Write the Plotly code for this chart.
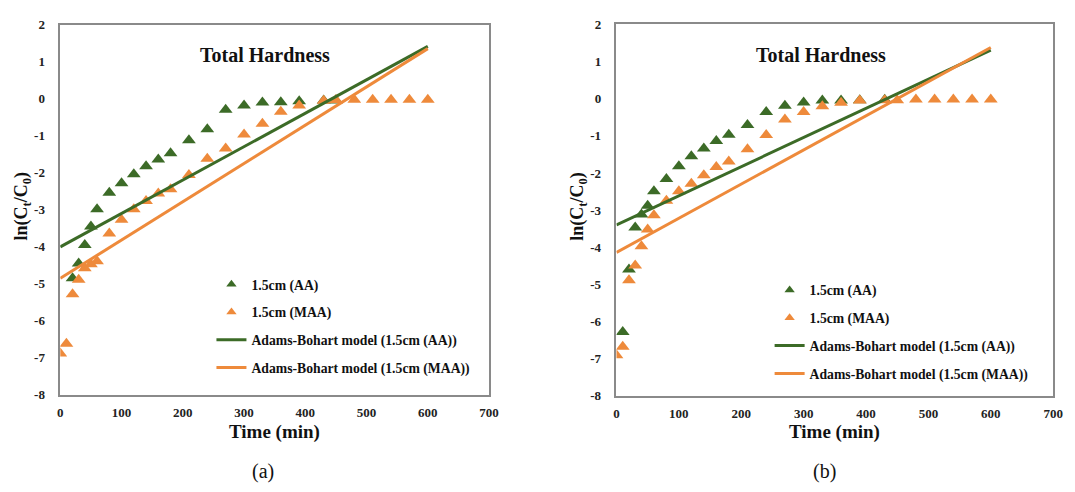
import plotly.graph_objects as go

# ---------------- data ----------------
# Panel (a)
time_aa_a = [20, 30, 40, 50, 60, 80, 100, 120, 140, 160, 180, 210, 240, 270, 300, 330, 360, 390, 430, 450]
ln_aa_a = [-4.85, -4.45, -3.95, -3.45, -2.98, -2.54, -2.28, -2.04, -1.82, -1.64, -1.47, -1.12, -0.82, -0.29, -0.18, -0.10, -0.09, -0.06, -0.04, -0.04]
time_maa_a = [0, 10, 20, 30, 40, 50, 60, 80, 100, 120, 140, 160, 180, 210, 240, 270, 300, 330, 360, 390, 430, 450, 480, 510, 540, 570, 600]
ln_maa_a = [-6.88, -6.62, -5.28, -4.89, -4.58, -4.47, -4.39, -3.64, -3.27, -2.98, -2.76, -2.56, -2.44, -2.06, -1.62, -1.34, -0.96, -0.67, -0.35, -0.18, -0.05, -0.03, -0.02, -0.02, -0.02, -0.02, -0.02]
model_t = [0, 600]
model_aa_a = [-4.0, 1.42]
model_maa_a = [-4.85, 1.36]

# Panel (b)
time_aa_b = [10, 20, 30, 40, 50, 60, 80, 100, 120, 140, 160, 180, 210, 240, 270, 300, 330, 360, 390, 430]
ln_aa_b = [-6.28, -4.60, -3.47, -3.12, -2.88, -2.49, -2.16, -1.82, -1.55, -1.34, -1.14, -0.97, -0.71, -0.36, -0.19, -0.10, -0.05, -0.05, -0.04, -0.03]
time_maa_b = [0, 10, 20, 30, 40, 50, 60, 80, 100, 120, 140, 160, 180, 210, 240, 270, 300, 330, 360, 390, 430, 450, 480, 510, 540, 570, 600]
ln_maa_b = [-6.91, -6.68, -4.89, -4.49, -3.97, -3.52, -3.14, -2.75, -2.49, -2.29, -2.06, -1.84, -1.69, -1.36, -0.98, -0.56, -0.36, -0.20, -0.11, -0.05, -0.04, -0.04, -0.02, -0.02, -0.02, -0.02, -0.02]
model_aa_b = [-3.40, 1.31]
model_maa_b = [-4.14, 1.38]

x_ticks = [0, 100, 200, 300, 400, 500, 600, 700]
y_ticks = [-8, -7, -6, -5, -4, -3, -2, -1, 0, 1, 2]
x_tick_text = ["0", "100", "200", "300", "400", "500", "600", "700"]
y_tick_text = ["-8", "-7", "-6", "-5", "-4", "-3", "-2", "-1", "0", "1", "2"]

names = ["1.5cm (AA)", "1.5cm (MAA)", "Adams-Bohart model (1.5cm (AA))", "Adams-Bohart model (1.5cm (MAA))"]

# ---------------- styles ----------------
GREEN = "#3C6B27"
ORANGE = "#EE8A3B"
SERIF = "Liberation Serif"
W, H = 1075, 492

fig = go.Figure()

panels = [
    dict(xa="x", ya="y", leg="legend", data=(time_aa_a, ln_aa_a, time_maa_a, ln_maa_a, model_aa_a, model_maa_a)),
    dict(xa="x2", ya="y2", leg="legend2", data=(time_aa_b, ln_aa_b, time_maa_b, ln_maa_b, model_aa_b, model_maa_b)),
]

for p in panels:
    ta, la, tm, lm, ma, mm = p["data"]
    common = dict(xaxis=p["xa"], yaxis=p["ya"], showlegend=False, hoverinfo="skip")
    fig.add_trace(go.Scatter(x=ta, y=la, mode="markers",
                             marker=dict(symbol="triangle-up", size=12, color=GREEN), **common))
    fig.add_trace(go.Scatter(x=tm, y=lm, mode="markers",
                             marker=dict(symbol="triangle-up", size=12, color=ORANGE), **common))
    fig.add_trace(go.Scatter(x=model_t, y=ma, mode="lines",
                             line=dict(color=GREEN, width=3), **common))
    fig.add_trace(go.Scatter(x=model_t, y=mm, mode="lines",
                             line=dict(color=ORANGE, width=3), **common))
    # legend-only entries
    styles = [
        dict(mode="markers", marker=dict(symbol="triangle-up", size=9, color=GREEN)),
        dict(mode="markers", marker=dict(symbol="triangle-up", size=9, color=ORANGE)),
        dict(mode="lines", line=dict(color=GREEN, width=3)),
        dict(mode="lines", line=dict(color=ORANGE, width=3)),
    ]
    for i, (nm, st) in enumerate(zip(names, styles)):
        fig.add_trace(go.Scatter(x=[None], y=[None], name=nm, legend=p["leg"],
                                 legendgroup=f"{p['leg']}_{i}", showlegend=True,
                                 xaxis=p["xa"], yaxis=p["ya"], **st))

def px_x(v):
    return v / W

def px_y(v):
    return 1 - v / H

tickfont = dict(family=SERIF, size=13, color="#222", weight="bold")
axis_common = dict(showgrid=False, zeroline=False, showline=True, linecolor="#8a8a8a",
                   linewidth=1.5, mirror=True, ticks="outside",
                   tickcolor="rgba(0,0,0,0)", tickfont=tickfont, tickmode="array")
xax = dict(ticklen=5, tickvals=x_ticks, ticktext=x_tick_text, range=[0, 700], **axis_common)
yax = dict(ticklen=11, tickvals=y_ticks, ticktext=y_tick_text, range=[-8, 2], **axis_common)

legfont = dict(family=SERIF, size=13.7, color="#111", weight="bold")
fig.update_layout(
    width=W, height=H,
    margin=dict(l=0, r=0, t=0, b=0),
    paper_bgcolor="white", plot_bgcolor="white",
    xaxis=dict(domain=[px_x(58), px_x(492)], anchor="y", **xax),
    yaxis=dict(domain=[px_y(400), px_y(18.5)], anchor="x", **yax),
    xaxis2=dict(domain=[px_x(621), px_x(1063)], anchor="y2", **xax),
    yaxis2=dict(domain=[px_y(401), px_y(18)], anchor="x2", **yax),
    legend=dict(x=px_x(211), y=px_y(270), xanchor="left", yanchor="top", font=legfont,
                bgcolor="rgba(0,0,0,0)", itemwidth=30, tracegroupgap=7),
    legend2=dict(x=px_x(776), y=px_y(276), xanchor="left", yanchor="top", font=legfont,
                 bgcolor="rgba(0,0,0,0)", itemwidth=30, tracegroupgap=7),
)

annots = []
for cx, tx, lx, lab, ytx in [(265, 275, 263, "(a)", 20), (828, 842, 832, "(b)", 583)]:
    annots.append(dict(text="Total Hardness", x=px_x(cx), y=px_y(50), xref="paper", yref="paper",
                       showarrow=False, xanchor="center", yanchor="middle",
                       font=dict(family=SERIF, size=20, color="#111", weight="bold")))
    annots.append(dict(text="Time (min)", x=px_x(tx), y=px_y(438), xref="paper", yref="paper",
                       showarrow=False, xanchor="center", yanchor="middle",
                       font=dict(family=SERIF, size=19, color="#111", weight="bold")))
    annots.append(dict(text=lab, x=px_x(lx), y=px_y(479), xref="paper", yref="paper",
                       showarrow=False, xanchor="center", yanchor="middle",
                       font=dict(family=SERIF, size=20, color="#111")))
    annots.append(dict(text="ln(C<sub>t</sub>/C<sub>0</sub>)", x=px_x(ytx), y=px_y(205), xref="paper", yref="paper",
                       showarrow=False, xanchor="center", yanchor="middle", textangle=-90,
                       font=dict(family=SERIF, size=18, color="#111", weight="bold")))
fig.update_layout(annotations=annots)

fig.write_html("out.html")
